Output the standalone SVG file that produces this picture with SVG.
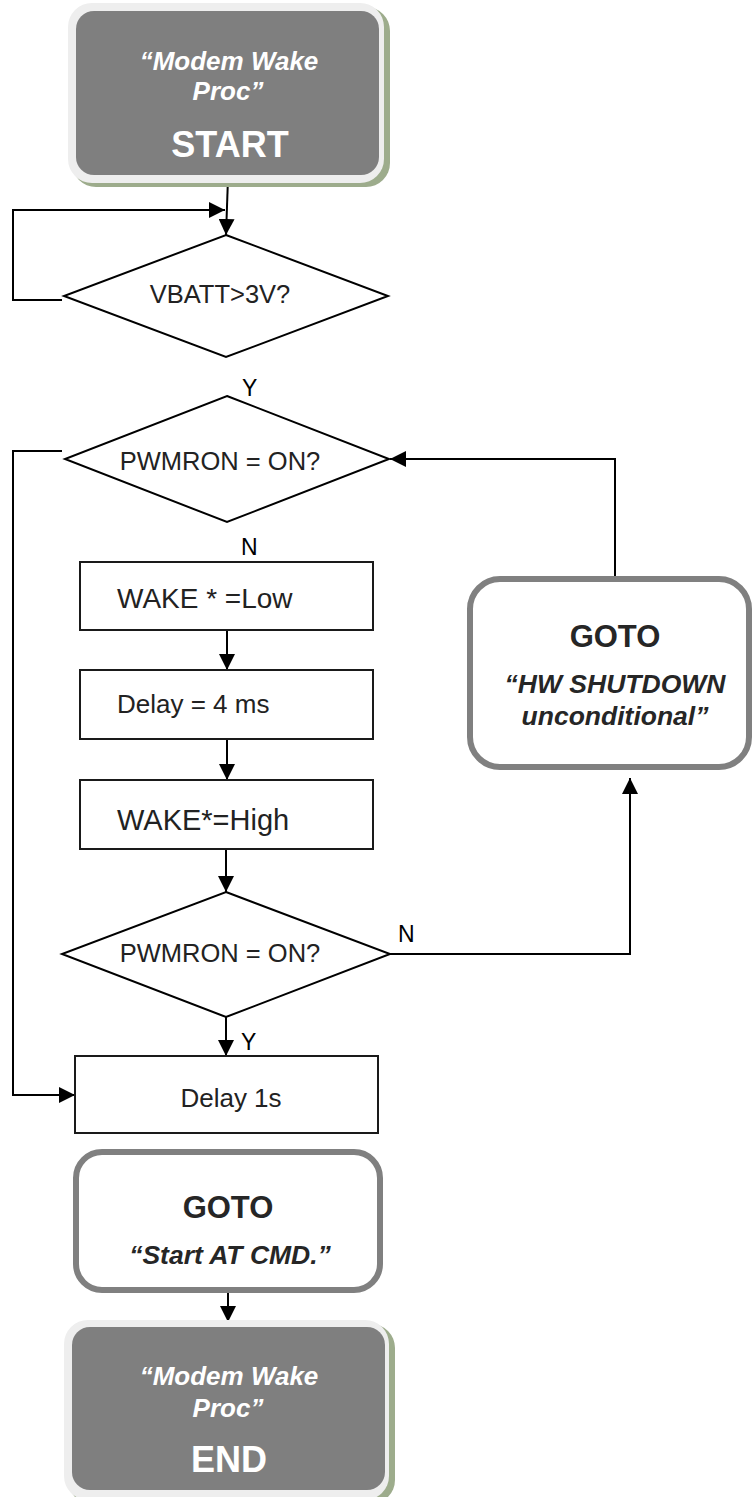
<svg xmlns="http://www.w3.org/2000/svg" width="752" height="1497" viewBox="0 0 752 1497">
<style>
text{font-family:"Liberation Sans",Arial,sans-serif;}
.term-shadow{fill:#9dac8c;}
.term-rim{fill:#eeeeee;}
.term-body{fill:#7f7f7f;}
.term-txt{fill:#ffffff;font-weight:bold;font-style:italic;font-size:26px;text-anchor:middle;}
.term-big{fill:#ffffff;font-weight:bold;font-size:36px;text-anchor:middle;}
.proc{fill:#ffffff;stroke:#1a1a1a;stroke-width:2;}
.dec{fill:#ffffff;stroke:#000000;stroke-width:2;}
.txt{fill:#222222;font-size:26px;}
.lbl{fill:#000000;font-size:23px;}
.goto{fill:#ffffff;stroke:#808080;stroke-width:6;}
.goto-h{fill:#262626;font-weight:bold;font-size:31px;text-anchor:middle;}
.goto-t{fill:#262626;font-weight:bold;font-style:italic;font-size:26.5px;text-anchor:middle;}
.conn{fill:none;stroke:#000000;stroke-width:2;}
</style>
<defs>
<marker id="arr" markerUnits="userSpaceOnUse" markerWidth="16" markerHeight="16" viewBox="0 0 14 14" refX="14" refY="7" orient="auto">
<path d="M0,0 L14,7 L0,14 z" fill="#000"/>
</marker>
</defs>

<g id="connectors">
<path class="conn" d="M228,178 L226,235" marker-end="url(#arr)"/>
<path class="conn" d="M62,300 L13,300 L13,210 L225,210" marker-end="url(#arr)"/>
<path class="conn" d="M62,451 L13,451 L13,1095 L75,1095" marker-end="url(#arr)"/>
<path class="conn" d="M615,577 L615,459 L390,459" marker-end="url(#arr)"/>
<path class="conn" d="M227,630 L227,670" marker-end="url(#arr)"/>
<path class="conn" d="M227,739 L227,780" marker-end="url(#arr)"/>
<path class="conn" d="M226,849 L226,892" marker-end="url(#arr)"/>
<path class="conn" d="M390,954 L630,954 L630,778" marker-end="url(#arr)"/>
<path class="conn" d="M226,1017 L226,1056" marker-end="url(#arr)"/>
<path class="conn" d="M228,1293 L228,1322" marker-end="url(#arr)"/>
</g>

<g id="start">
<rect class="term-shadow" x="72" y="7" width="318" height="180" rx="24"/>
<rect class="term-rim" x="68" y="3" width="316" height="180" rx="24"/>
<rect class="term-body" x="76" y="11" width="303" height="164" rx="18"/>
<text class="term-txt" x="229" y="70">“Modem Wake</text>
<text class="term-txt" x="228" y="100">Proc”</text>
<text class="term-big" x="230" y="157">START</text>
</g>

<g id="vbatt">
<polygon class="dec" points="226,235 388,296 226,357 64,296"/>
<text class="txt" x="220" y="303" text-anchor="middle" style="font-size:25.5px">VBATT&gt;3V?</text>
</g>
<text class="lbl" x="242" y="396">Y</text>

<g id="pwmron1">
<polygon class="dec" points="227,396 389,459 227,522 65,459"/>
<text class="txt" x="220" y="470" text-anchor="middle" style="font-size:25.5px">PWMRON = ON?</text>
</g>
<text class="lbl" x="241" y="555">N</text>

<g id="wake-low">
<rect class="proc" x="80" y="562" width="293" height="68"/>
<text class="txt" x="117" y="608" style="font-size:28px">WAKE * =Low</text>
</g>

<g id="delay4">
<rect class="proc" x="80" y="670" width="293" height="69"/>
<text class="txt" x="117" y="713">Delay = 4 ms</text>
</g>

<g id="wake-high">
<rect class="proc" x="80" y="780" width="293" height="69"/>
<text class="txt" x="117" y="830" style="font-size:29px">WAKE*=High</text>
</g>

<g id="pwmron2">
<polygon class="dec" points="226,892 390,954 226,1017 62,954"/>
<text class="txt" x="220" y="962" text-anchor="middle" style="font-size:25.5px">PWMRON = ON?</text>
</g>
<text class="lbl" x="398" y="942">N</text>
<text class="lbl" x="241" y="1050">Y</text>

<g id="delay1s">
<rect class="proc" x="75" y="1056" width="303" height="77"/>
<text class="txt" x="231" y="1107" text-anchor="middle">Delay 1s</text>
</g>

<g id="goto-hw">
<rect class="goto" x="470" y="579" width="279" height="188" rx="30"/>
<text class="goto-h" x="615" y="647">GOTO</text>
<text class="goto-t" x="615" y="693">“HW SHUTDOWN</text>
<text class="goto-t" x="615" y="725">unconditional”</text>
</g>

<g id="goto-at">
<rect class="goto" x="76" y="1152" width="304" height="138" rx="26"/>
<text class="goto-h" x="228" y="1218">GOTO</text>
<text class="goto-t" x="230" y="1264">“Start AT CMD.”</text>
</g>

<g id="end">
<rect class="term-shadow" x="68" y="1324" width="327" height="180" rx="24"/>
<rect class="term-rim" x="64" y="1320" width="325" height="180" rx="24"/>
<rect class="term-body" x="72" y="1327" width="313" height="163" rx="18"/>
<text class="term-txt" x="229" y="1385">“Modem Wake</text>
<text class="term-txt" x="228" y="1417">Proc”</text>
<text class="term-big" x="229" y="1472">END</text>
</g>
</svg>
